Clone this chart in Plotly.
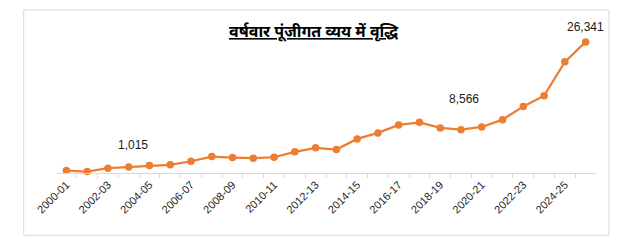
import plotly.graph_objects as go

years = ["2000-01", "2001-02", "2002-03", "2003-04", "2004-05", "2005-06", "2006-07",
         "2007-08", "2008-09", "2009-10", "2010-11", "2011-12", "2012-13", "2013-14",
         "2014-15", "2015-16", "2016-17", "2017-18", "2018-19", "2019-20", "2020-21",
         "2021-22", "2022-23", "2023-24", "2024-25", "2025-26"]
capex = [280, 60, 750, 1015, 1290, 1430, 2160, 3110, 2910, 2770, 2970, 4060, 4870,
         4530, 6690, 7900, 9510, 10040, 8910, 8566, 9110, 10590, 13270, 15430, 22300, 26341]
labelled = {"2003-04": (4, 22), "2019-20": (3, 31), "2025-26": (0, 15)}
title_text = "<b><u>वर्षवार पूंजीगत व्यय में वृद्धि</u></b>"

xs = list(range(len(years)))
orange = "#ED7D31"

fig = go.Figure()
fig.add_trace(go.Scatter(
    x=xs, y=capex, mode="lines+markers",
    line=dict(color=orange, width=2.25),
    marker=dict(color=orange, size=7.5),
    cliponaxis=False, hoverinfo="skip", showlegend=False,
))

for yr, (dx, dy) in labelled.items():
    i = years.index(yr)
    fig.add_annotation(x=xs[i], y=capex[i], text=f"{capex[i]:,}", showarrow=False,
                       xshift=dx, yshift=dy,
                       font=dict(family="Liberation Sans, Arial", size=12, color="#1a1a1a"))

ML, PW = 56.3, 539.8
MT, PH = 20, 153.5
def px(x):
    return (x - ML) / PW
def py(y):
    return (MT + PH - y) / PH

fig.add_annotation(xref="paper", yref="paper", x=px(314), y=py(31), text=title_text,
                   showarrow=False, xanchor="center", yanchor="middle",
                   font=dict(family="Noto Sans, Lohit Devanagari, sans-serif", size=16, color="#000000"))

fig.add_shape(type="rect", xref="paper", yref="paper",
              x0=px(24), x1=px(609), y0=py(236), y1=py(10),
              line=dict(color="#d9d9d9", width=1), fillcolor="rgba(0,0,0,0)", layer="below")

fig.update_layout(
    width=629, height=242,
    margin=dict(l=ML, r=629 - ML - PW, t=MT, b=242 - MT - PH, pad=0),
    paper_bgcolor="white", plot_bgcolor="white",
    xaxis=dict(
        range=[-0.5, len(years) - 0.5], tickmode="array",
        tickvals=xs[::2], ticktext=years[::2], tickangle=-45,
        ticks="", showgrid=False, zeroline=False,
        showline=True, linecolor="#d9d9d9", linewidth=1,
        tickfont=dict(family="Liberation Sans, Arial", size=11, color="#262626"),
        minor=dict(tickvals=[i + 0.5 for i in xs[:-1]], ticks="outside", ticklen=4,
                   tickcolor="#d9d9d9", showgrid=False),
    ),
    yaxis=dict(range=[-222, 30780], visible=False, showgrid=False, zeroline=False),
)

fig.write_html("out.html")
